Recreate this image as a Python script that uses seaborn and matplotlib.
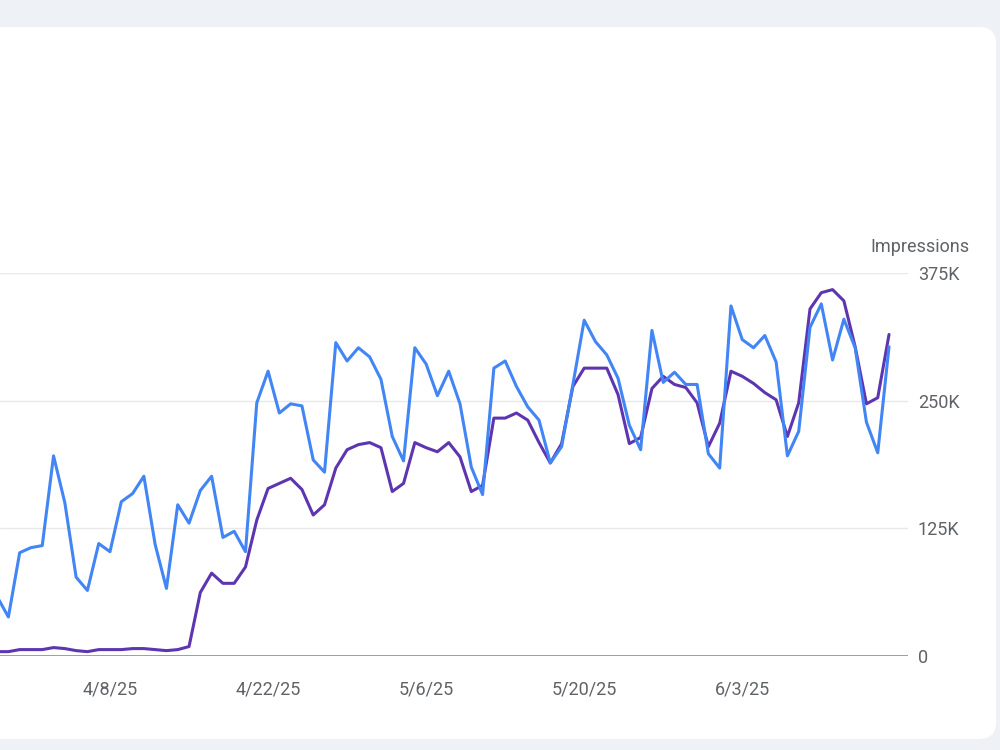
import matplotlib
matplotlib.use("Agg")
import matplotlib.pyplot as plt
import matplotlib.dates as mdates
from matplotlib.patches import FancyBboxPatch
import pandas as pd
import seaborn as sns

# ---------------- data ----------------
dates = pd.date_range("2025-03-29", "2025-06-16", freq="D")

clicks_k = [
    58, 38, 101,                                   # Mar 29-31
    106, 108, 196, 150, 77, 64, 110, 102, 151, 159,  # Apr 1-10
    176, 109, 66, 148, 130, 162, 176, 116, 122, 102,  # Apr 11-20
    248, 279, 238, 247, 245, 192, 180, 307, 289, 302,  # Apr 21-30
    293, 271, 215, 191, 302, 286, 255, 279, 247, 185,  # May 1-10
    158, 282, 289, 264, 244, 231, 189, 205, 266, 329,  # May 11-20
    308, 295, 272, 226, 202, 319, 268, 278, 266, 266, 198,  # May 21-31
    184, 343, 310, 302, 314, 288, 196, 220, 322, 345,  # Jun 1-10
    290, 330, 302, 229, 199, 303,                  # Jun 11-16
]

impressions_k = [
    4, 4, 6,
    6, 6, 8, 7, 5, 4, 6, 6, 6, 7,
    7, 6, 5, 6, 9, 62, 81, 71, 71, 87,
    133, 164, 169, 174, 163, 138, 148, 184, 202, 207,
    209, 204, 161, 169, 209, 204, 200, 209, 195, 161,
    167, 233, 233, 238, 231, 209, 189, 208, 264, 282,
    282, 282, 256, 208, 214, 262, 274, 266, 263, 248, 205,
    228, 279, 274, 267, 258, 251, 215, 248, 340, 356,
    359, 348, 303, 247, 253, 315,
]

y_ticks = [0, 125, 250, 375]
y_tick_labels = ["0", "125K", "250K", "375K"]
x_tick_dates = ["2025-04-08", "2025-04-22", "2025-05-06", "2025-05-20", "2025-06-03"]
x_tick_labels = ["4/8/25", "4/22/25", "5/6/25", "5/20/25", "6/3/25"]
x_view = ["2025-03-29 06:10", "2025-06-17 16:20"]

series_names = ["Impressions", "Clicks"]
series_colors = {"Impressions": "#5e35b1", "Clicks": "#4285f4"}

# ---------------- style ----------------
sns.set_theme(style="white")
plt.rcParams["font.family"] = ["Roboto", "DejaVu Sans"]

fig = plt.figure(figsize=(10, 7.5), dpi=100)
fig.patch.set_facecolor("#eef2f7")

# card background
bg = fig.add_axes([0, 0, 1, 1])
bg.set_xlim(0, 1000)
bg.set_ylim(750, 0)
bg.axis("off")
bg.add_patch(FancyBboxPatch((-40, 27), 1036, 712,
                            boxstyle="round,pad=0,rounding_size=17",
                            fc="white", ec="none"))

ax = fig.add_axes([0, 0.1257, 0.908, 0.5099])
ax.set_facecolor("none")

df = pd.DataFrame({
    "date": list(dates) * 2,
    "value": impressions_k + clicks_k,
    "series": ["Impressions"] * len(dates) + ["Clicks"] * len(dates),
})

sns.lineplot(data=df, x="date", y="value", hue="series",
             hue_order=series_names, palette=series_colors,
             linewidth=2.2, legend=False, ax=ax)
for ln in ax.get_lines():
    ln.set_solid_joinstyle("round")
    ln.set_solid_capstyle("round")

ax.set_xlim(mdates.date2num(pd.Timestamp(x_view[0])),
            mdates.date2num(pd.Timestamp(x_view[1])))
ax.set_ylim(0, 375)

for s in ax.spines.values():
    s.set_visible(False)

ax.yaxis.tick_right()
ax.set_yticks(y_ticks)
ax.set_yticklabels(y_tick_labels)
ax.set_xticks([mdates.date2num(pd.Timestamp(d)) for d in x_tick_dates])
ax.set_xticklabels(x_tick_labels)
ax.tick_params(axis="y", length=0, pad=7, labelsize=13, labelcolor="#5f6368")
ax.tick_params(axis="x", length=0, pad=18, labelsize=13, labelcolor="#5f6368")
ax.grid(axis="y", color="#e8e8e8", linewidth=1)
ax.grid(axis="x", visible=False)
ax.axhline(0, color="#9e9e9e", linewidth=1.4, zorder=1)
ax.set_xlabel("")
ax.set_ylabel("")

fig.text(0.970, 1 - 247 / 750, "Impressions", ha="right", va="center",
         fontsize=13, color="#5f6368")

fig.savefig("out.png", dpi=100, facecolor=fig.get_facecolor())
